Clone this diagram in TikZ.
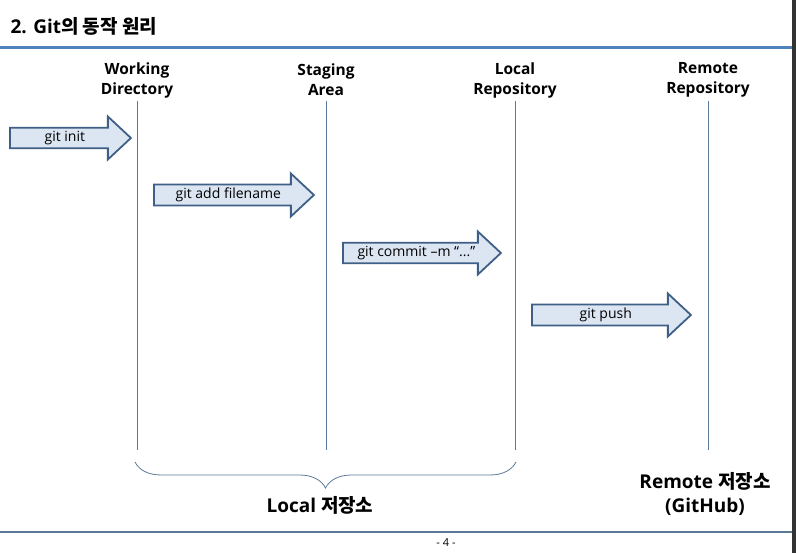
\documentclass[tikz,border=0pt]{standalone}
\usepackage{fontspec}
\setmainfont{Open Sans}
\newfontfamily\kr{Noto Sans CJK KR}
\usetikzlibrary{shapes.arrows, positioning, decorations.pathreplacing}

\definecolor{titleblue}{HTML}{4F81BD}
\definecolor{lineblue}{HTML}{5B7A99}
\definecolor{arrowfill}{HTML}{DCE6F2}
\definecolor{arrowdraw}{HTML}{3F5F87}

\begin{document}
\begin{tikzpicture}[
      x=1pt, y=-1pt,
      header/.style={font=\fontsize{15.5}{20}\selectfont\bfseries, align=center},
      cmd/.style={single arrow, draw=arrowdraw, line width=1.8pt, fill=arrowfill,
        minimum width=43pt, single arrow head extend=10.5pt, single arrow tip angle=86,
        inner sep=2pt, anchor=west, font=\fontsize{14}{15}\selectfont},
      store/.style={font=\fontsize{19}{24}\selectfont\bfseries, align=center},
      lane/.style={draw=lineblue, line width=0.8pt}
    ]
      \useasboundingbox (0,0) rectangle (796,553);
      \fill[white] (0,0) rectangle (796,553);
      \fill[black!80] (792,0) rectangle (796,553);

      % Title and rules
      \node[anchor=west, font=\fontsize{19}{20}\selectfont\bfseries] (title) at (7,26) {2. Git{\kr\fontsize{19}{20}\selectfont\bfseries 의 동작 원리}};
      \draw[titleblue, line width=3pt] (0,48) -- (792,48);
      \draw[lineblue, line width=1.2pt] (0,532) -- (792,532);
      \node[font=\fontsize{11}{12}\selectfont] (page) at (446,543) {- 4 -};

      % Column headers
      \node[header] (wd) at (137,80) {Working\\Directory};
      \node[header] (sa) at (326,80) {Staging\\Area};
      \node[header] (lr) at (515,80) {Local\\Repository};
      \node[header] (rr) at (708,80) {Remote\\Repository};

      % Lanes
      \foreach \col/\xx in {wd/137, sa/326, lr/515, rr/708} {
        \coordinate (\col top) at (\xx,101);
        \coordinate (\col bot) at (\xx,450);
        \draw[lane] (\col top) -- (\col bot);
      }

      % Commands
      \node[cmd, minimum height=121pt] (init) at (9,138) {git init};
      \node[cmd, minimum height=160pt] (add) at (153,195) {git add filename};
      \node[cmd, minimum height=158pt] (commit) at (342,253) {git commit –m “...”};
      \node[cmd, minimum height=159pt] (push) at (531,315) {git push};

      % Storage labels
      \coordinate (bl) at (135,462);
      \coordinate (br) at (516,462);
      \draw[lane, decorate, decoration={brace, mirror, amplitude=26pt}] (bl) -- (br);
      \node[store] (local) at (320,505) {Local {\kr 저장소}};
      \node[store] (remote) at (705,494) {Remote {\kr 저장소}\\(GitHub)};
    \end{tikzpicture}
\end{document}
